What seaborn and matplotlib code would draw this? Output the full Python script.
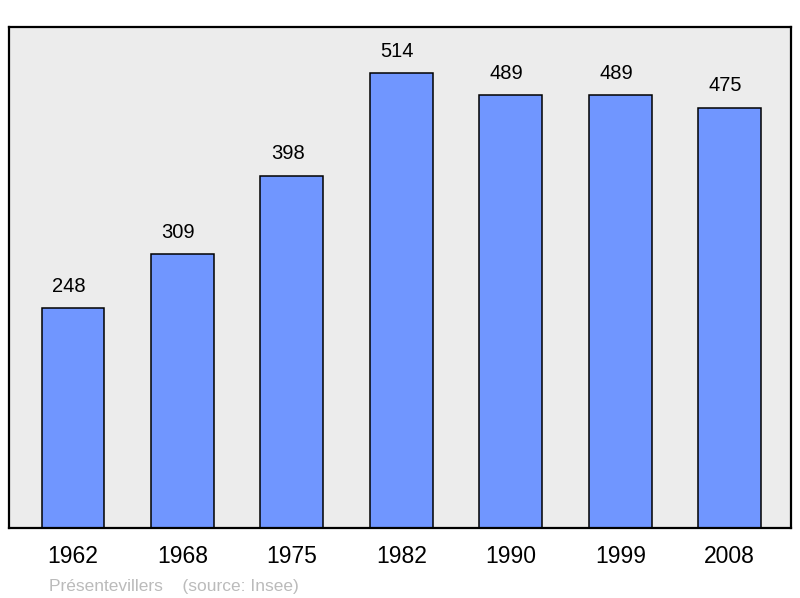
import matplotlib
matplotlib.use("Agg")
import matplotlib.pyplot as plt
import seaborn as sns
import pandas as pd

years = ["1962", "1968", "1975", "1982", "1990", "1999", "2008"]
population = [248, 309, 398, 514, 489, 489, 475]
commune = "Présentevillers"
source = "(source: Insee)"

sns.set_theme(style="white")
plt.rcParams['font.family'] = ['Liberation Sans', 'DejaVu Sans']

df = pd.DataFrame({"year": years, "pop": population})

fig = plt.figure(figsize=(8, 5.98), dpi=100)
ax = fig.add_axes([9/800, 70/598, 782/800, 501/598])
ax.set_facecolor("#ececec")

sns.barplot(data=df, x="year", y="pop", color="#7096ff", saturation=1,
            width=0.575, edgecolor="black", linewidth=1.1, ax=ax, zorder=2)

for i, v in enumerate(population):
    ax.annotate(str(v), (i, v), xytext=(-3, 9), textcoords="offset points",
                ha="center", va="bottom", fontsize=14.5, color="black")

ax.set_xlim(-0.585, 6.56)
ax.set_ylim(0, 566)
ax.set_yticks([])
ax.set_xlabel("")
ax.set_ylabel("")
ax.tick_params(axis="x", length=0, labelsize=16.5, pad=12, colors="black")
for s in ax.spines.values():
    s.set_visible(True)
    s.set_color("black")
    s.set_linewidth(1.6)

fig.text(49/800, 1 - 591/598, commune + "    " + source, fontsize=12.5,
         color="#bbbbbb", ha="left", va="baseline")

fig.savefig("out.png", dpi=100)
